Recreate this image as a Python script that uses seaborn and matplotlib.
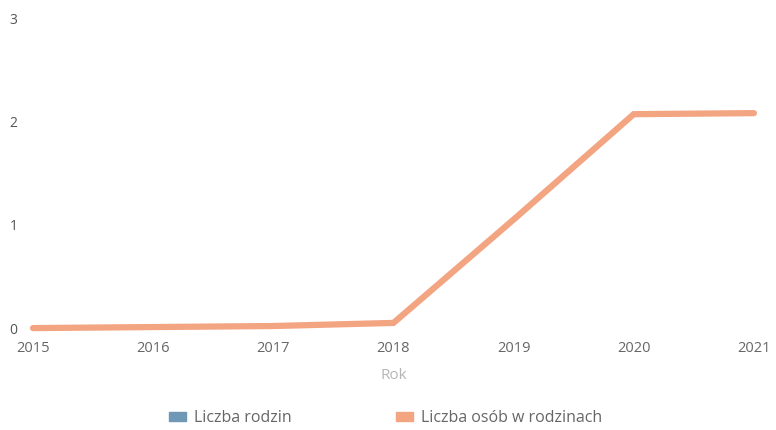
import matplotlib
matplotlib.use("Agg")
import matplotlib.pyplot as plt
import matplotlib.patches as mpatches
import numpy as np
import pandas as pd
import seaborn as sns

years = [2015, 2016, 2017, 2018, 2019, 2020, 2021]
liczba_rodzin = [np.nan, np.nan, np.nan, np.nan, np.nan, np.nan, np.nan]
liczba_osob = [0.0, 0.01, 0.02, 0.05, 1.05, 2.07, 2.08]
y_ticks = [0, 1, 2, 3]

blue = "#6f97b6"
orange = "#f3a481"

df = pd.DataFrame({"Rok": years, "Liczba rodzin": liczba_rodzin,
                   "Liczba osób w rodzinach": liczba_osob})

sns.set_style("white")
plt.rcParams["font.family"] = ["Open Sans", "DejaVu Sans"]

fig = plt.figure(figsize=(7.76, 4.30), dpi=100)
ax = fig.add_axes([0.0425, 0.237, 0.929, 0.721])

sns.lineplot(data=df, x="Rok", y="Liczba osób w rodzinach", color=orange,
             linewidth=4.5, ax=ax, clip_on=False, solid_joinstyle="miter")

ax.set_xlim(2015, 2021)
ax.set_ylim(0, 3)
ax.set_xticks(years)
ax.set_yticks(y_ticks)
ax.tick_params(axis="x", length=0, pad=9, labelsize=10.5, labelcolor="#666666")
ax.tick_params(axis="y", length=0, pad=11, labelsize=10, labelcolor="#555555")
ax.set_ylabel("")
ax.set_xlabel("Rok", color="#b5b5b5", fontsize=11, labelpad=9)
sns.despine(ax=ax, left=True, bottom=True)

handles = [mpatches.Patch(color=blue, label="Liczba rodzin"),
           mpatches.Patch(color=orange, label="Liczba osób w rodzinach")]
leg = fig.legend(handles=handles, loc="center", bbox_to_anchor=(0.497, 0.027),
                 ncol=2, frameon=False, fontsize=11.5, handlelength=1.1,
                 handleheight=0.45, handletextpad=0.5, columnspacing=6.5)
for t in leg.get_texts():
    t.set_color("#666666")

fig.savefig("out.png", dpi=100)
